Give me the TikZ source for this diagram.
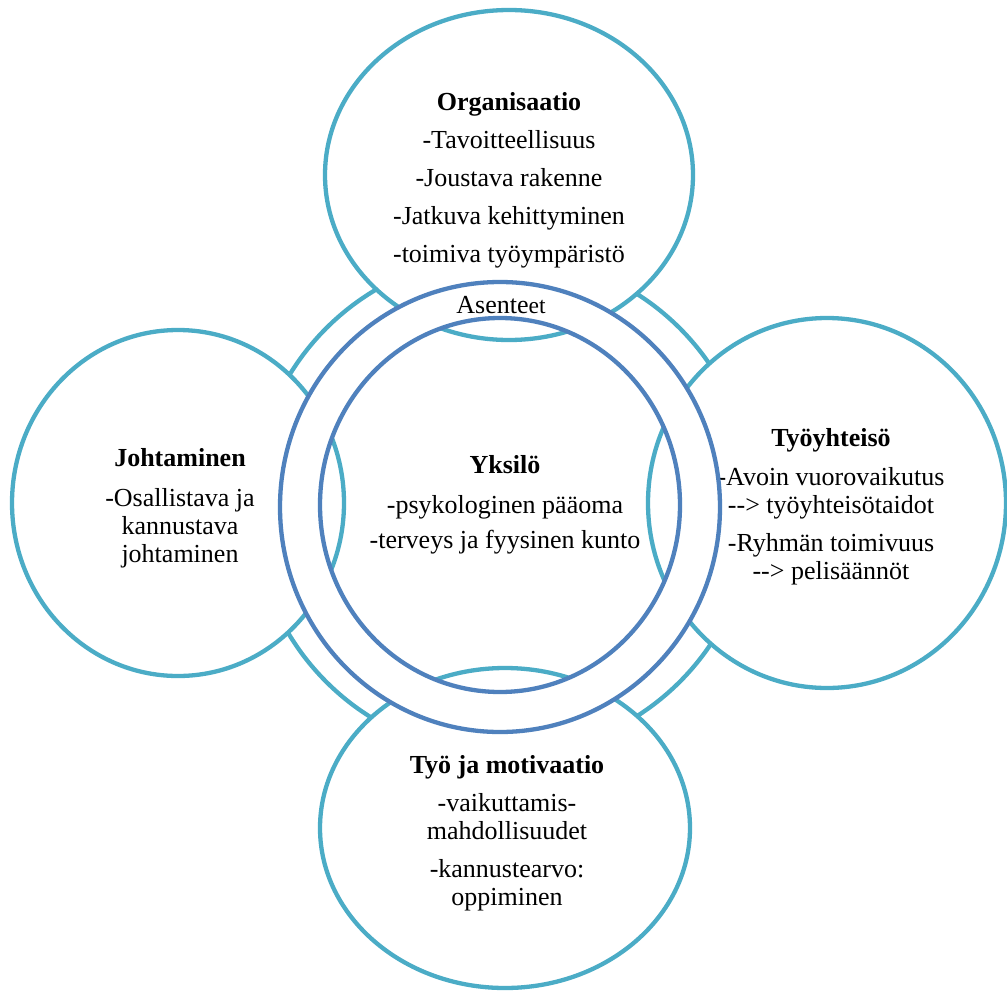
\documentclass[tikz,border=0pt]{standalone}
\usepackage{fontspec}
\setmainfont{Liberation Serif}
\usetikzlibrary{shapes.geometric}
\definecolor{tealc}{RGB}{75,172,198}
\definecolor{bluec}{RGB}{79,129,189}
\begin{document}
\begin{tikzpicture}[x=1pt,y=-1pt,
  outercirc/.style={ellipse, draw=tealc, line width=4.3pt, fill=white, inner sep=0pt},
  ringcirc/.style={ellipse, draw=bluec, line width=4.3pt, inner sep=0pt},
  txt/.style={align=center, anchor=north, inner sep=0pt, font=\fontsize{26}{28}\selectfont},
]
\useasboundingbox (0,0) rectangle (1007,991);
% connecting band
\node[outercirc, minimum width=500pt, minimum height=500pt] (band) at (503,505) {};
% outer circles
\node[outercirc, minimum width=368pt, minimum height=330pt] (org) at (509,175) {};
\node[outercirc, minimum width=332pt, minimum height=346pt] (joh) at (178,503) {};
\node[outercirc, minimum width=358pt, minimum height=370pt] (tyy) at (827,503) {};
\node[outercirc, minimum width=370pt, minimum height=320pt] (mot) at (505,828) {};
% texts of outer circles
\node[txt] (orgt) at (509,90.4) {\textbf{Organisaatio}\strut\\[10pt] -Tavoitteellisuus\\[10pt] -Joustava rakenne\\[10pt] -Jatkuva kehittyminen\\[10pt] -toimiva työympäristö};
\node[txt] (joht) at (180,446.4) {\textbf{Johtaminen}\strut\\[12pt] -Osallistava ja\\ kannustava\\ johtaminen};
\node[txt] (tyyt) at (831,426.4) {\textbf{Työyhteisö}\strut\\[11pt] -Avoin vuorovaikutus\\ -{}-> työyhteisötaidot\\[10pt] -Ryhmän toimivuus\\ -{}-> pelisäännöt};
\node[txt] (mott) at (507,753.4) {\textbf{Työ ja motivaatio}\strut\\[10pt] -vaikuttamis-\\ mahdollisuudet\\[10pt] -kannustearvo:\\ oppiminen};
% central ring
\fill[white, even odd rule] (500,507) ellipse [x radius=220pt, y radius=225pt] (500,505) ellipse [x radius=180pt, y radius=187pt];
\node[ringcirc, minimum width=440pt, minimum height=450pt] (asring) at (500,507) {};
\node[ringcirc, minimum width=360pt, minimum height=374pt] (yks) at (500,505) {};
\node[anchor=base, inner sep=0pt] (ast) at (501,313) {\fontsize{26}{28}\selectfont Asente\fontsize{23.5}{26}\selectfont et};
\node[txt] (ykst) at (505,453.4) {\textbf{Yksilö}\strut\\[12pt] -psykologinen pääoma\\[7pt] -terveys ja fyysinen kunto};
\end{tikzpicture}
\end{document}
